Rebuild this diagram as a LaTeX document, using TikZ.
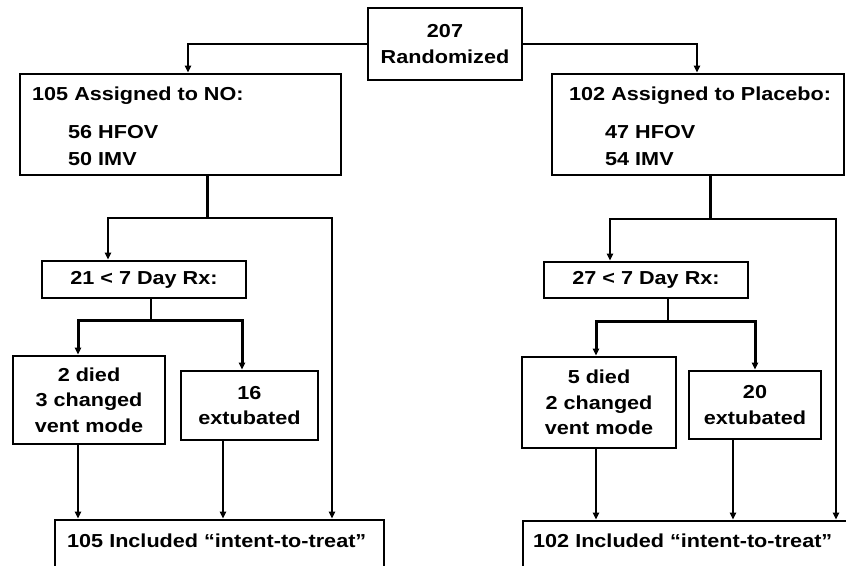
\documentclass[tikz,border=0pt]{standalone}
\usepackage{fontspec}
\setmainfont{Liberation Sans}[FakeStretch=1.15]
\usetikzlibrary{arrows.meta,calc}
\begin{document}
\begin{tikzpicture}[x=1pt,y=-1pt,
  fnt/.style={font=\bfseries\fontsize{18.8}{25.5}\selectfont},
  box/.style={draw, line width=2.6pt, fill=white, inner sep=0pt, align=center, fnt},
  txt/.style={inner sep=0pt, anchor=base west, fnt},
  conn/.style={line width=2pt},
  trunk/.style={line width=3pt},
  arr/.style={conn, -{Triangle[length=7pt,width=6pt]}},
  tarr/.style={trunk, -{Triangle[length=7pt,width=6pt]}}]
\useasboundingbox (0,0) rectangle (846,565);
\clip (0,0) rectangle (846,565);
\fill[white] (0,0) rectangle (846,565);

% boxes
\node[box, minimum width=154, minimum height=72] (top) at (445,44) {207\\Randomized};
\node[box, minimum width=321, minimum height=101] (la) at (180.5,124.5) {};
\node[txt] (laT) at (32,100) {105 Assigned to NO:};
\node[txt] (laH) at (68,138) {56 HFOV};
\node[txt] (laI) at (68,165) {50 IMV};
\node[box, minimum width=292, minimum height=101] (ra) at (698,124.5) {};
\node[txt] (raT) at (569,100) {102 Assigned to Placebo:};
\node[txt] (raH) at (605,138) {47 HFOV};
\node[txt] (raI) at (605,165) {54 IMV};

\node[box, minimum width=204, minimum height=37] (r21) at (144,279.5) {21 < 7 Day Rx:};
\node[box, minimum width=204, minimum height=36] (r27) at (646,280) {27 < 7 Day Rx:};

\node[box, minimum width=152, minimum height=88] (dL) at (89,400) {2 died\\3 changed\\vent mode};
\node[box, minimum width=137, minimum height=69] (eL) at (249.5,405.5) {16\\extubated};
\node[box, minimum width=154, minimum height=91] (dR) at (599,402.5) {5 died\\2 changed\\vent mode};
\node[box, minimum width=132, minimum height=68] (eR) at (755,405) {20\\extubated};

\node[box, minimum width=329, minimum height=80] (bl) at (219.5,560) {};
\node[txt] (blT) at (67,547) {105 Included “intent-to-treat”};
\node[box, minimum width=357, minimum height=79] (br) at (701.5,560.5) {};
\node[txt] (brT) at (533,547) {102 Included “intent-to-treat”};

% top split
\draw[arr] (top.west) -| ($(la.north)+(7.5,0)$);
\draw[arr] (top.east) -| ($(ra.north)+(-1,0)$);

% left branch
\coordinate (jL) at (207,218);
\draw[trunk] ($(la.south)+(26.5,0)$) -- (jL);
\draw[arr] (jL) -| ($(r21.north)+(-36,0)$);
\draw[arr] (jL) -| ($(bl.north)+(112.5,0)$);
\coordinate (kL) at (151,320);
\draw[conn] ($(r21.south)+(7,0)$) -- (kL);
\draw[tarr] (kL) -| ($(dL.north)+(-11,0)$);
\draw[tarr] (kL) -| ($(eL.north)+(-7.5,0)$);
\draw[arr] (dL.south) ++(-11,0) coordinate (pL1) -- (pL1 |- bl.north);
\draw[arr] (eL.south) ++(-26.5,0) coordinate (pL2) -- (pL2 |- bl.north);

% right branch
\coordinate (jR) at (710,219);
\draw[trunk] ($(ra.south)+(12,0)$) -- (jR);
\draw[arr] (jR) -| ($(r27.north)+(-36,0)$);
\draw[arr] (jR) -| ($(br.north)+(134.5,0)$);
\coordinate (kR) at (668,321);
\draw[conn] ($(r27.south)+(22,0)$) -- (kR);
\draw[tarr] (kR) -| ($(dR.north)+(-3,0)$);
\draw[tarr] (kR) -| (eR.north);
\draw[arr] (dR.south) ++(-3,0) coordinate (pR1) -- (pR1 |- br.north);
\draw[arr] (eR.south) ++(-22,0) coordinate (pR2) -- (pR2 |- br.north);
\end{tikzpicture}
\end{document}
